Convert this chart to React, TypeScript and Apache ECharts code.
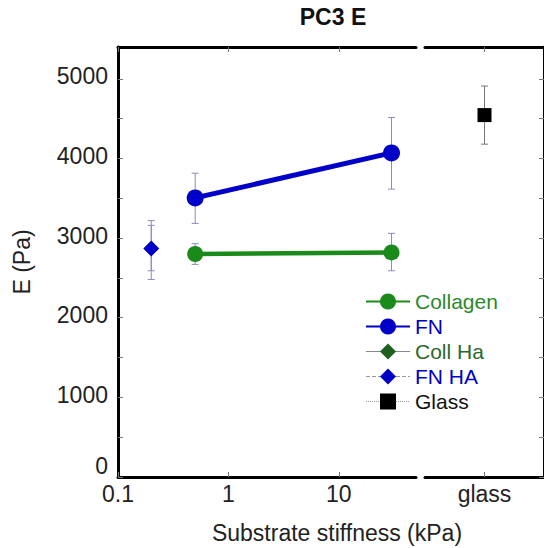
import React, { useEffect, useRef } from "react";
import * as echarts from "echarts";

const FONT = "'Liberation Sans', Arial, sans-serif";

// Data
const stiffness = [0.5, 30];
const collagenE = [2800, 2820];
const collagenLow = [2670, 2590];
const collagenHigh = [2930, 3060];
const fnE = [3505, 4070];
const fnLow = [3185, 3615];
const fnHigh = [3815, 4515];
const haStiffness = [0.2];
const collHaE = [2865];
const collHaLow = [2590];
const collHaHigh = [3160];
const fnHaE = [2870];
const fnHaLow = [2480];
const fnHaHigh = [3220];
const glassCategories = ["glass"];
const glassE = [4545];
const glassLow = [4180];
const glassHigh = [4910];

const xTickValues = [0.1, 1, 10];
const yLabelValues = [0, 1000, 2000, 3000, 4000, 5000];
const yTickValues = [0, 500, 1000, 1500, 2000, 2500, 3000, 3500, 4000, 4500, 5000];

const GREEN = "#1a8a1a";
const DARK_GREEN = "#1f5f1f";
const BLUE = "#0000c8";
const ERR = "#8c8cb4";

function errorRender(color: string) {
  return (params: any, api: any) => {
    const x = api.value(0);
    const lo = api.coord([x, api.value(1)]);
    const hi = api.coord([x, api.value(2)]);
    const cap = 3.5;
    const style = { stroke: color, lineWidth: 1 };
    return {
      type: "group",
      children: [
        { type: "line", shape: { x1: lo[0], y1: lo[1], x2: hi[0], y2: hi[1] }, style },
        { type: "line", shape: { x1: lo[0] - cap, y1: lo[1], x2: lo[0] + cap, y2: lo[1] }, style },
        { type: "line", shape: { x1: hi[0] - cap, y1: hi[1], x2: hi[0] + cap, y2: hi[1] }, style },
      ],
    };
  };
}

export default function App() {
  const ref = useRef<HTMLDivElement>(null);
  useEffect(() => {
    if (!ref.current) return;
    const chart = echarts.init(ref.current, undefined, { renderer: "svg" });
    const axisLine = { show: true, onZero: false, lineStyle: { color: "#000", width: 3 } };
    const tick = (values: any[]) => ({
      show: true,
      inside: true,
      length: 5,
      customValues: values,
      lineStyle: { color: "#777", width: 1 },
    });
    const option: any = {
      animation: false,
      textStyle: { fontFamily: FONT },
      grid: [
        { left: 118, top: 47, width: 298, height: 430 },
        { left: 425, top: 47, width: 124, height: 430 },
      ],
      xAxis: [
        {
          gridIndex: 0,
          type: "log",
          logBase: 10,
          min: 0.1,
          max: 50,
          position: "bottom",
          axisLine,
          axisTick: tick(xTickValues),
          minorTick: { show: false },
          splitLine: { show: false },
          axisLabel: {
            customValues: xTickValues,
            fontSize: 23,
            color: "#222",
            fontFamily: FONT,
            margin: 5,
            formatter: (v: number) => (v < 1 ? v.toFixed(1) : String(Math.round(v))),
          },
        },
        {
          gridIndex: 0,
          type: "log",
          logBase: 10,
          min: 0.1,
          max: 50,
          position: "top",
          axisLine,
          axisTick: tick(xTickValues),
          minorTick: { show: false },
          splitLine: { show: false },
          axisLabel: { show: false },
        },
        {
          gridIndex: 1,
          type: "category",
          data: glassCategories,
          position: "bottom",
          axisLine,
          axisTick: { show: true, inside: true, length: 5, alignWithLabel: true, lineStyle: { color: "#777" } },
          axisLabel: { fontSize: 23, color: "#222", fontFamily: FONT, margin: 5 },
          splitLine: { show: false },
        },
        {
          gridIndex: 1,
          type: "category",
          data: glassCategories,
          position: "top",
          axisLine,
          axisTick: { show: true, inside: true, length: 5, alignWithLabel: true, lineStyle: { color: "#777" } },
          axisLabel: { show: false },
          splitLine: { show: false },
        },
      ],
      yAxis: [
        {
          gridIndex: 0,
          type: "value",
          min: 0,
          max: 5400,
          position: "left",
          axisLine,
          axisTick: tick(yTickValues),
          splitLine: { show: false },
          axisLabel: {
            customValues: yLabelValues,
            fontSize: 23,
            color: "#222",
            fontFamily: FONT,
            margin: 10,
            formatter: (v: number) => (v === 0 ? "{z|0}" : "{n|" + String(v) + "}"),
            rich: {
              z: { fontSize: 23, fontFamily: FONT, color: "#222", padding: [0, 0, 22, 0] },
              n: { fontSize: 23, fontFamily: FONT, color: "#222", padding: [0, 0, 5, 0] },
            },
          },
          name: "E (Pa)",
          nameLocation: "middle",
          nameGap: 85,
          nameTextStyle: { fontSize: 23, color: "#222", fontFamily: FONT },
        },
        {
          gridIndex: 1,
          type: "value",
          min: 0,
          max: 5400,
          position: "right",
          axisLine,
          axisTick: tick(yTickValues),
          splitLine: { show: false },
          axisLabel: { show: false },
        },
      ],
      legend: {
        orient: "vertical",
        left: 360,
        top: 286,
        itemWidth: 44,
        itemHeight: 20,
        itemGap: 4,
        textStyle: { fontSize: 21, fontFamily: FONT },
        data: [
          { name: "Collagen", textStyle: { color: "#2a8a2a" } },
          { name: "FN", textStyle: { color: BLUE } },
          { name: "Coll Ha", textStyle: { color: "#2a6a2a" }, lineStyle: { color: "#888", width: 1 } },
          { name: "FN HA", textStyle: { color: BLUE }, lineStyle: { color: "#999", width: 1, type: "dashed" } },
          { name: "Glass", textStyle: { color: "#111" }, lineStyle: { color: "#999", width: 1, type: "dotted" } },
        ],
      },
      series: [
        {
          type: "custom",
          name: "err-collagen",
          xAxisIndex: 0,
          yAxisIndex: 0,
          renderItem: errorRender(ERR),
          data: stiffness.map((s, i) => [s, collagenLow[i], collagenHigh[i]]),
          z: 1,
          silent: true,
        },
        {
          type: "custom",
          name: "err-fn",
          xAxisIndex: 0,
          yAxisIndex: 0,
          renderItem: errorRender(ERR),
          data: stiffness.map((s, i) => [s, fnLow[i], fnHigh[i]]),
          z: 1,
          silent: true,
        },
        {
          type: "custom",
          name: "err-collha",
          xAxisIndex: 0,
          yAxisIndex: 0,
          renderItem: errorRender(ERR),
          data: haStiffness.map((s, i) => [s, collHaLow[i], collHaHigh[i]]),
          z: 1,
          silent: true,
        },
        {
          type: "custom",
          name: "err-fnha",
          xAxisIndex: 0,
          yAxisIndex: 0,
          renderItem: errorRender(ERR),
          data: haStiffness.map((s, i) => [s, fnHaLow[i], fnHaHigh[i]]),
          z: 1,
          silent: true,
        },
        {
          type: "custom",
          name: "err-glass",
          xAxisIndex: 2,
          yAxisIndex: 1,
          renderItem: errorRender("#777"),
          data: glassCategories.map((c, i) => [i, glassLow[i], glassHigh[i]]),
          z: 1,
          silent: true,
        },
        {
          type: "line",
          name: "Collagen",
          xAxisIndex: 0,
          yAxisIndex: 0,
          data: stiffness.map((s, i) => [s, collagenE[i]]),
          symbol: "circle",
          symbolSize: 16,
          itemStyle: { color: GREEN },
          lineStyle: { color: GREEN, width: 4.5 },
          z: 3,
        },
        {
          type: "line",
          name: "FN",
          xAxisIndex: 0,
          yAxisIndex: 0,
          data: stiffness.map((s, i) => [s, fnE[i]]),
          symbol: "circle",
          symbolSize: 17,
          itemStyle: { color: BLUE },
          lineStyle: { color: BLUE, width: 5 },
          z: 3,
        },
        {
          type: "line",
          name: "Coll Ha",
          xAxisIndex: 0,
          yAxisIndex: 0,
          data: haStiffness.map((s, i) => [s, collHaE[i]]),
          symbol: "diamond",
          symbolSize: 14,
          itemStyle: { color: DARK_GREEN },
          lineStyle: { color: "#888", width: 1 },
          z: 3,
        },
        {
          type: "line",
          name: "FN HA",
          xAxisIndex: 0,
          yAxisIndex: 0,
          data: haStiffness.map((s, i) => [s, fnHaE[i]]),
          symbol: "diamond",
          symbolSize: 16,
          itemStyle: { color: BLUE },
          lineStyle: { color: "#999", width: 1, type: "dashed" },
          z: 4,
        },
        {
          type: "line",
          name: "Glass",
          xAxisIndex: 2,
          yAxisIndex: 1,
          data: glassE,
          symbol: "rect",
          symbolSize: 14,
          itemStyle: { color: "#000" },
          lineStyle: { color: "#999", width: 1, type: "dotted" },
          z: 3,
        },
      ],
      graphic: [
        {
          type: "text",
          x: 333,
          y: 17,
          style: {
            text: "PC3 E",
            fontSize: 23,
            fontWeight: "bold",
            fontFamily: FONT,
            fill: "#111",
            align: "center",
            verticalAlign: "middle",
          },
        },
        {
          type: "text",
          x: 337,
          y: 533,
          style: {
            text: "Substrate stiffness (kPa)",
            fontSize: 23,
            fontFamily: FONT,
            fill: "#222",
            align: "center",
            verticalAlign: "middle",
          },
        },
      ],
    };
    chart.setOption(option);
    return () => chart.dispose();
  }, []);
  return (
    <div
      ref={ref}
      style={{ position: "fixed", left: 0, top: 0, width: 544, height: 548, background: "#fff" }}
    />
  );
}
